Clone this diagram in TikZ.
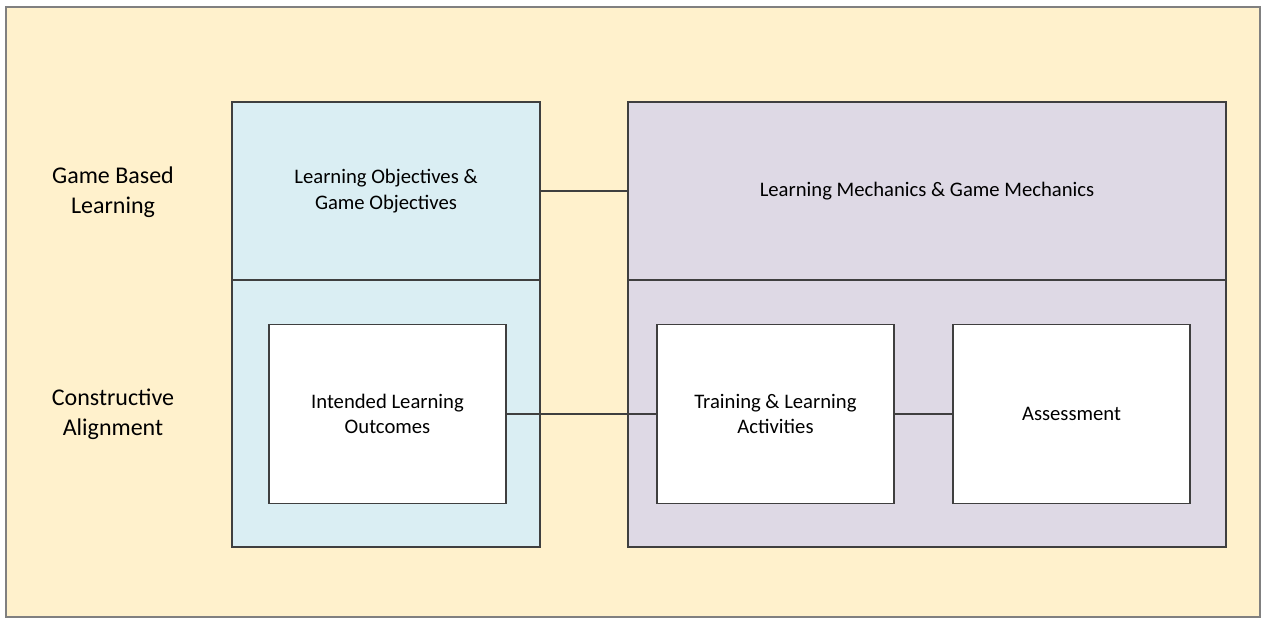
\documentclass[tikz,border=0pt]{standalone}
\usepackage{fontspec}
\setmainfont{Carlito}
\definecolor{cream}{HTML}{FFF1CC}
\definecolor{paleblue}{HTML}{DAEEF3}
\definecolor{palelilac}{HTML}{DED9E5}
\definecolor{edge}{HTML}{3F3F3F}
\tikzset{
  box/.style={draw=edge,line width=1.2pt,inner sep=0pt,align=center,font=\fontsize{15.5}{19}\selectfont},
  side/.style={align=center,font=\fontsize{18}{22.5}\selectfont},
  link/.style={draw=edge,line width=1.3pt},
}
\begin{document}
\begin{tikzpicture}[x=0.75pt,y=-0.75pt]
\useasboundingbox (0,0) rectangle (1262,618);
\node[draw=gray,fill=cream,line width=1pt,inner sep=0pt,minimum width=940.5pt,minimum height=457.5pt] (frame) at (633,312) {};
\node[side] (gbl) at (113,192) {Game Based\\Learning};
\node[side] (ca) at (113,414) {Constructive\\Alignment};
\node[box,fill=paleblue,minimum width=231pt,minimum height=133.5pt] (lo) at (386,191) {Learning Objectives \&\\Game Objectives};
\node[box,fill=palelilac,minimum width=448.5pt,minimum height=133.5pt] (lm) at (927,191) {Learning Mechanics \& Game Mechanics};
\node[box,fill=paleblue,minimum width=231pt,minimum height=200.25pt] (cablue) at (386,413.5) {};
\node[box,fill=palelilac,minimum width=448.5pt,minimum height=200.25pt] (calilac) at (927,413.5) {};
\node[box,fill=white,minimum width=177.75pt,minimum height=134.25pt] (ilo) at (387.5,414) {Intended Learning\\Outcomes};
\node[box,fill=white,minimum width=177.75pt,minimum height=134.25pt] (tla) at (775.5,414) {Training \& Learning\\Activities};
\node[box,fill=white,minimum width=177.75pt,minimum height=134.25pt] (asm) at (1071.5,414) {Assessment};
\draw[link] (lo) -- (lm);
\draw[link] (ilo) -- (tla);
\draw[link] (tla) -- (asm);
\end{tikzpicture}
\end{document}
